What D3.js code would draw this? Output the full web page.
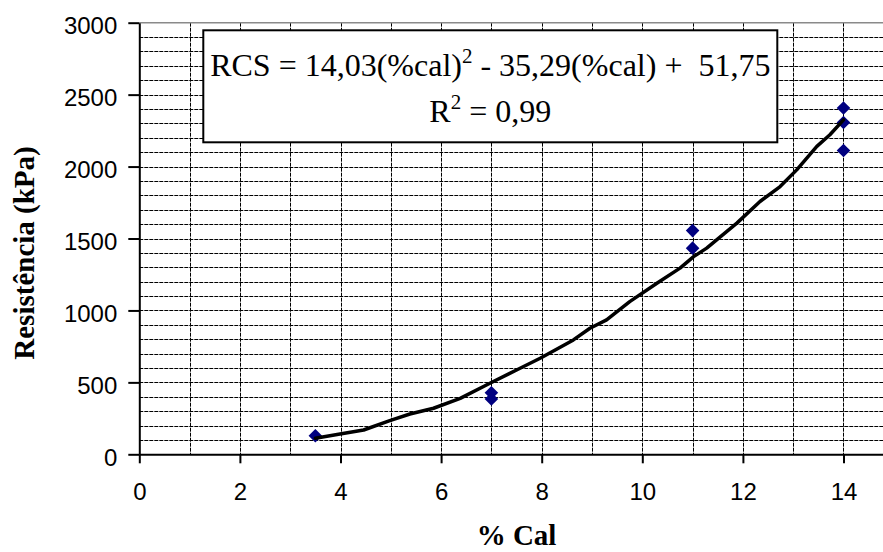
<!DOCTYPE html>
<html>
<head>
<meta charset="utf-8">
<script src="https://cdn.jsdelivr.net/npm/d3@7"></script>
<style>
  html, body { margin: 0; padding: 0; background: #fff; }
  svg { display: block; }
  .pre { white-space: pre; }
</style>
</head>
<body>
<svg id="chart" width="883" height="552"></svg>
<script>
// ---- data ----
const pointX = [3.5, 7, 7, 11, 11, 14, 14, 14];
const pointY = [129, 428, 384, 1555, 1433, 2407, 2306, 2112];

// fitted trend line as drawn
const curveX = [3.5, 3.99, 4.46, 4.98, 5.38, 5.85, 6.38, 6.97, 7.5, 7.97, 8.63, 8.96, 9.29, 9.75, 10.29, 10.75, 11.02, 11.28, 11.88, 12.34, 12.74, 13.07, 13.47, 13.73, 14];
const curveY = [112, 141, 169, 234, 280, 320, 389, 494, 586, 668, 795, 876, 934, 1061, 1189, 1294, 1374, 1433, 1607, 1757, 1861, 1977, 2140, 2221, 2325];

const xTicks = [0, 2, 4, 6, 8, 10, 12, 14];
const yTicks = [0, 500, 1000, 1500, 2000, 2500, 3000];
const xGrid = [1, 2, 3, 4, 5, 6, 7, 8, 9, 10, 11, 12, 13, 14];
const yGrid = d3.range(100, 3000, 100);

const eqLine1 = ["RCS = 14,03(%cal)", "2", " - 35,29(%cal) +  51,75"];
const eqLine2 = ["R", "2", " = 0,99"];
const xTitle = "% Cal";
const yTitle = "Resistência (kPa)";

(function draw() {
  const svg = d3.select("#chart");
  const pL = 139.3, pR = 893.8, pT = 22.7, pB = 454.3;
  const x = d3.scaleLinear().domain([0, 15]).range([pL, pR]);
  const y = d3.scaleLinear().domain([0, 3000]).range([pB, pT]);

  const sans = "'Liberation Sans', Arial, sans-serif";
  const serif = "'Liberation Serif', 'Times New Roman', serif";

  // grid
  const grid = svg.append("g");
  grid.selectAll("line.h").data(yGrid).join("line")
    .attr("x1", pL).attr("x2", pR)
    .attr("y1", d => Math.round(y(d)) + 0.5).attr("y2", d => Math.round(y(d)) + 0.5)
    .attr("stroke", "#000").attr("stroke-width", 1).attr("stroke-dasharray", "4,1");
  grid.selectAll("line.v").data(xGrid).join("line")
    .attr("y1", pT).attr("y2", pB)
    .attr("x1", d => Math.round(x(d)) + 0.5).attr("x2", d => Math.round(x(d)) + 0.5)
    .attr("stroke", "#000").attr("stroke-width", 1).attr("stroke-dasharray", "4,1");

  // top border (grey)
  svg.append("line")
    .attr("x1", pL).attr("x2", pR).attr("y1", y(3000)).attr("y2", y(3000))
    .attr("stroke", "#8a8a8a").attr("stroke-width", 1.5);

  // equation box
  const boxX = 203.3, boxY = 30.3, boxW = 574, boxH = 112;
  svg.append("rect")
    .attr("x", boxX).attr("y", boxY).attr("width", boxW).attr("height", boxH)
    .attr("fill", "#fff").attr("stroke", "#000").attr("stroke-width", 2);

  function eqText(parts, yBase, size) {
    const t = svg.append("text").attr("class", "pre")
      .attr("x", boxX + boxW / 2).attr("y", yBase)
      .attr("text-anchor", "middle")
      .attr("font-family", serif).attr("font-size", size).attr("fill", "#000");
    t.append("tspan").text(parts[0]);
    t.append("tspan").attr("dy", -13).attr("font-size", 21).text(parts[1]);
    t.append("tspan").attr("dy", 13).text(parts[2]);
  }
  eqText(eqLine1, 76, 32);
  eqText(eqLine2, 122, 32);

  // axes
  const fmt = d3.format("d");
  const yAxis = svg.append("g").attr("transform", `translate(${pL},0)`)
    .call(d3.axisLeft(y).tickValues(yTicks).tickFormat(fmt).tickSize(11).tickSizeOuter(0).tickPadding(11));
  const xAxis = svg.append("g").attr("transform", `translate(0,${pB})`)
    .call(d3.axisBottom(x).tickValues(xTicks).tickFormat(fmt).tickSize(9).tickSizeOuter(0).tickPadding(19.7));
  [yAxis, xAxis].forEach(g => {
    g.select(".domain").attr("stroke", "#000").attr("stroke-width", 2);
    g.selectAll(".tick line").attr("stroke", "#000").attr("stroke-width", 2);
    g.selectAll(".tick text").attr("font-family", sans).attr("font-size", 24).attr("fill", "#000");
  });
  yAxis.selectAll(".tick text").attr("dy", "0.45em");

  // markers (square diamonds)
  const diamond = {
    draw(ctx, size) {
      const r = Math.sqrt(size / 2);
      ctx.moveTo(0, -r); ctx.lineTo(r, 0); ctx.lineTo(0, r); ctx.lineTo(-r, 0); ctx.closePath();
    }
  };
  svg.append("g").selectAll("path").data(pointX.map((d, i) => [d, pointY[i]])).join("path")
    .attr("transform", d => `translate(${x(d[0])},${y(d[1])})`)
    .attr("d", d3.symbol().type(diamond).size(2 * 6.8 * 6.8))
    .attr("fill", "#000080");

  // trend curve
  const line = d3.line().x(d => x(d[0])).y(d => y(d[1]));
  svg.append("path")
    .datum(curveX.map((d, i) => [d, curveY[i]]))
    .attr("d", line)
    .attr("fill", "none").attr("stroke", "#000").attr("stroke-width", 3.5)
    .attr("stroke-linejoin", "round").attr("stroke-linecap", "round");

  // axis titles
  svg.append("text")
    .attr("x", (pL + pR) / 2).attr("y", 545)
    .attr("text-anchor", "middle")
    .attr("font-family", serif).attr("font-weight", "bold").attr("font-size", 29)
    .text(xTitle);
  svg.append("text")
    .attr("transform", "translate(34,253) rotate(-90)")
    .attr("text-anchor", "middle")
    .attr("font-family", serif).attr("font-weight", "bold").attr("font-size", 29)
    .text(yTitle);
})();
</script>
</body>
</html>
